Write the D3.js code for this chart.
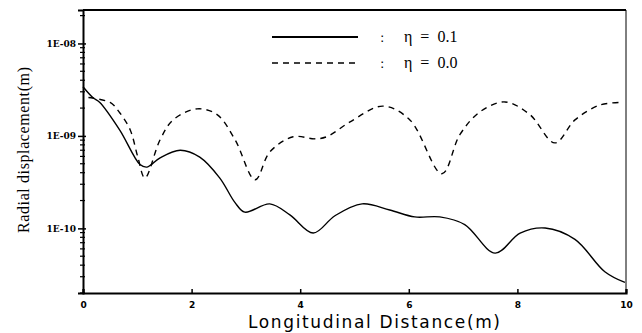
<!DOCTYPE html>
<html>
<head>
<meta charset="utf-8">
<script src="https://cdn.jsdelivr.net/npm/d3@7"></script>
<style>
  body { margin: 0; background: #fff; }
  svg { display: block; }
</style>
</head>
<body>
<div id="chart"></div>
<script>
    // Values (x in m, displacement in m)

    var xTicks = [0, 2, 4, 6, 8, 10]
    var yTicks = [1e-8, 1e-9, 1e-10]
    var yTickLabels = ['1E-08', '1E-09', '1E-10']

    var etaSolidX = [0, 0.18, 0.31, 0.68, 1.05, 1.18, 1.42, 1.79, 2.15, 2.52, 2.8, 2.98,
        3.44, 3.81, 4.24, 4.64, 5.14, 5.65, 6.11, 6.57, 7.03, 7.59, 8.05, 8.51, 9.06, 9.61, 9.98]
    var etaSolidY = [3.4e-9, 2.6e-9, 2.3e-9, 1.15e-9, 4.9e-10, 4.6e-10, 5.8e-10, 7.0e-10, 5.9e-10,
        3.5e-10, 1.9e-10, 1.5e-10, 1.84e-10, 1.4e-10, 8.9e-11, 1.37e-10, 1.84e-10, 1.58e-10,
        1.33e-10, 1.33e-10, 1.1e-10, 5.4e-11, 8.9e-11, 1.01e-10, 7.6e-11, 3.4e-11, 2.6e-11]

    var etaDashX = [0.1, 0.5, 0.68, 0.87, 1.01, 1.14, 1.42, 1.66, 2.1, 2.47, 2.8, 3.17, 3.44,
        3.87, 4.27, 4.49, 4.92, 5.52, 6.02, 6.61, 6.94, 7.31, 7.77, 8.23, 8.69, 9.06, 9.52, 9.93]
    var etaDashY = [2.6e-9, 2.3e-9, 1.77e-9, 1.16e-9, 5.9e-10, 3.5e-10, 9.1e-10, 1.49e-9, 1.96e-9,
        1.7e-9, 9.1e-10, 3.35e-10, 6.7e-10, 9.8e-10, 9.3e-10, 9.8e-10, 1.42e-9, 2.1e-9, 1.49e-9,
        3.9e-10, 1.03e-9, 1.82e-9, 2.33e-9, 1.7e-9, 8.4e-10, 1.49e-9, 2.16e-9, 2.3e-9]

    var legendLabels = ['\u03B7  =  0.1', '\u03B7  =  0.0']

    // Layout

    var W = 642, H = 333
    var L = 83, R = 626, T = 10, B = 293

    var x = d3.scaleLinear().domain([0, 10]).range([L, R])
    var y = d3.scaleLog().domain([2e-11, 2.3e-8]).range([B, T])

    var svg = d3.select('#chart').append('svg')
        .attr('width', W)
        .attr('height', H)
        .attr('viewBox', '0 0 ' + W + ' ' + H)

    // frame: heavy top / bottom / left, thin right
    svg.append('line').attr('x1', L).attr('x2', R).attr('y1', T).attr('y2', T)
        .attr('stroke', '#000').attr('stroke-width', 2.2)
    svg.append('line').attr('x1', R).attr('x2', R).attr('y1', T).attr('y2', B)
        .attr('stroke', '#000').attr('stroke-width', 1)

    // x axis
    var xAxis = d3.axisBottom(x).tickValues(xTicks).tickSize(-4).tickPadding(9)
        .tickFormat(d3.format('d'))
    var gx = svg.append('g').attr('transform', 'translate(0,' + B + ')').call(xAxis)
    gx.select('.domain').attr('stroke-width', 2.2)
    gx.selectAll('.tick line').attr('stroke-width', 1.5)
    gx.selectAll('text')
        .style('font-family', '"DejaVu Sans", sans-serif')
        .style('font-weight', 'bold')
        .style('font-size', '9px')

    // y axis, minor ticks 2..9 in each decade
    var minor = []
    for (var e = -11; e <= -8; e++) {
        for (var m = 2; m <= 9; m++) {
            var v = m * Math.pow(10, e)
            if (v >= y.domain()[0] && v <= y.domain()[1]) minor.push(v)
        }
    }
    var gy = svg.append('g').attr('transform', 'translate(' + L + ',0)')
        .call(d3.axisLeft(y).tickValues(yTicks).tickSize(5).tickPadding(2)
            .tickFormat(function(d, i) { return yTickLabels[i] }))
    gy.select('.domain').attr('stroke-width', 2)
    gy.selectAll('.tick line').attr('x2', 3).attr('x1', -5).attr('stroke-width', 1.5)
    gy.selectAll('text')
        .style('font-family', '"DejaVu Serif", serif')
        .style('font-weight', 'bold')
        .style('font-size', '9px')
    gy.selectAll('line.minor')
        .data(minor)
        .enter()
        .append('line')
        .attr('class', 'minor')
        .attr('x1', -3).attr('x2', 2)
        .attr('y1', function(d) { return y(d) })
        .attr('y2', function(d) { return y(d) })
        .attr('stroke', '#000').attr('stroke-width', 1.2)

    // curves
    var line = d3.line()
        .x(function(d) { return x(d[0]) })
        .y(function(d) { return y(d[1]) })
        .curve(d3.curveCatmullRom.alpha(0.5))

    var solidData = etaSolidX.map(function(v, i) { return [v, etaSolidY[i]] })
    var dashData = etaDashX.map(function(v, i) { return [v, etaDashY[i]] })

    svg.append('path').datum(dashData)
        .attr('d', line)
        .attr('fill', 'none').attr('stroke', '#000')
        .attr('stroke-width', 1.4).attr('stroke-dasharray', '6,5')

    svg.append('path').datum(solidData)
        .attr('d', line)
        .attr('fill', 'none').attr('stroke', '#000')
        .attr('stroke-width', 1.4)

    // legend
    var legend = svg.append('g')
    legend.selectAll('line')
        .data(legendLabels)
        .enter()
        .append('line')
        .attr('x1', 272).attr('x2', 358)
        .attr('y1', function(d, i) { return 37 + i * 26 })
        .attr('y2', function(d, i) { return 37 + i * 26 })
        .attr('stroke', '#000').attr('stroke-width', function(d, i) { return i ? 1.4 : 2 })
        .attr('stroke-dasharray', function(d, i) { return i ? '6,5' : null })
    legend.selectAll('text.colon')
        .data(legendLabels)
        .enter()
        .append('text')
        .attr('class', 'colon')
        .attr('x', 380)
        .attr('y', function(d, i) { return 42 + i * 26 })
        .style('font-family', '"DejaVu Sans", sans-serif')
        .style('font-size', '13px')
        .text(':')
    legend.selectAll('text.lab')
        .data(legendLabels)
        .enter()
        .append('text')
        .attr('class', 'lab')
        .attr('x', 404)
        .attr('y', function(d, i) { return 42 + i * 26 })
        .attr('xml:space', 'preserve')
        .style('font-family', '"Liberation Serif", serif')
        .style('font-size', '16px')
        .text(function(d) { return d })

    // axis titles
    svg.append('text')
        .attr('x', 374).attr('y', 328)
        .attr('text-anchor', 'middle')
        .attr('textLength', 252)
        .style('font-family', '"DejaVu Sans", sans-serif')
        .style('font-size', '17px')
        .text('Longitudinal Distance(m)')

    svg.append('text')
        .attr('transform', 'translate(29,150) rotate(-90)')
        .attr('text-anchor', 'middle')
        .attr('textLength', 166)
        .style('font-family', '"Liberation Serif", serif')
        .style('font-size', '16px')
        .text('Radial displacement(m)')
</script>
</body>
</html>
